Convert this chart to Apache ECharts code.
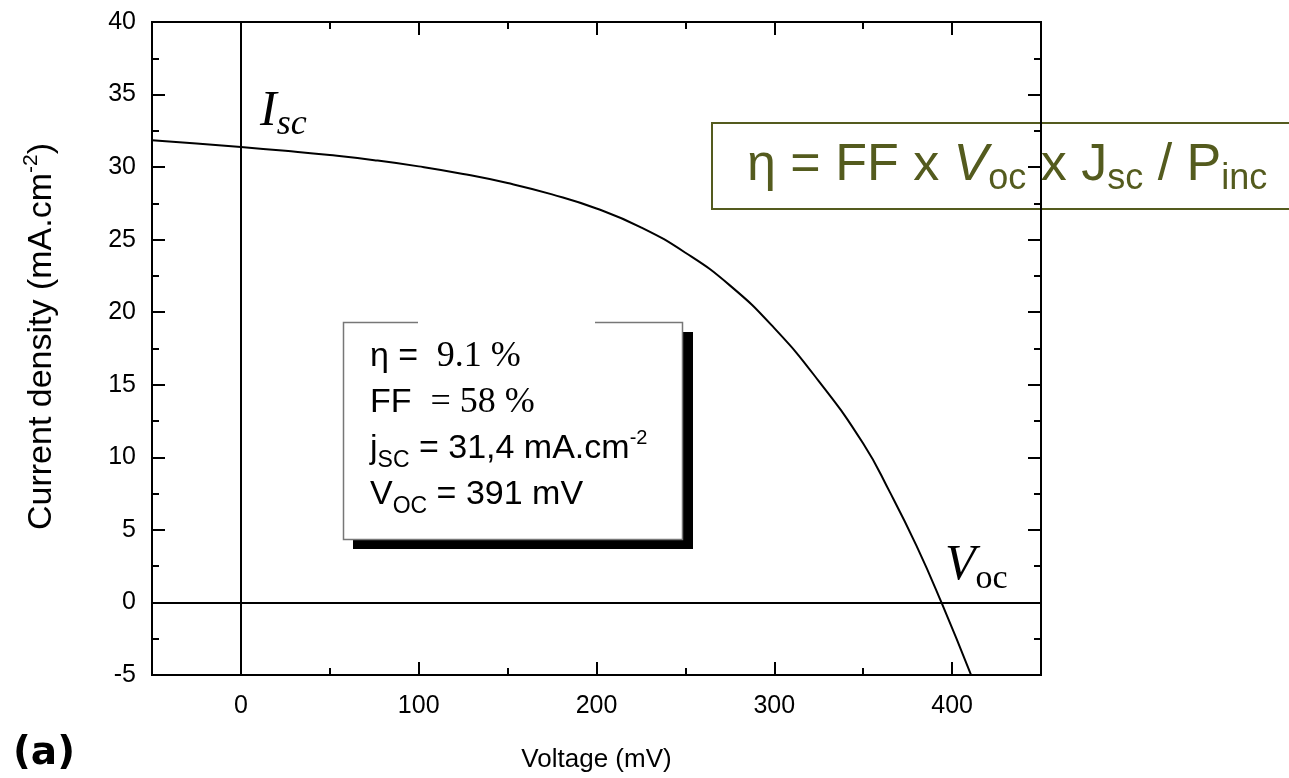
<!DOCTYPE html>
<html>
<head>
<meta charset="utf-8">
<script src="https://cdn.jsdelivr.net/npm/echarts@6/dist/echarts.min.js"></script>
<style>html,body{margin:0;padding:0;background:#fff}#c{width:1289px;height:778px}</style>
</head>
<body>
<div id="c"></div>
<script>
// Data
const voltage = [-50, -25, 0, 25, 50, 75, 100, 125, 150, 175, 200, 225, 250, 275, 300, 325, 350, 365, 380, 394, 411];
const currentDensity = [31.85, 31.62, 31.38, 31.12, 30.83, 30.48, 30.05, 29.53, 28.9, 28.12, 27.15, 25.85, 24.1, 21.85, 18.9, 15.25, 10.95, 7.6, 3.9, 0, -5.1];
const xMajorTicks = [0, 100, 200, 300, 400];
const xMinorTicks = [50, 150, 250, 350];
const yMajorTicks = [-5, 0, 5, 10, 15, 20, 25, 30, 35, 40];
const yMinorTicks = [-2.5, 2.5, 7.5, 12.5, 17.5, 22.5, 27.5, 32.5, 37.5];
const refLines = { x: 0, y: 0 };

const SANS = 'Liberation Sans';
const SERIF = 'Liberation Serif';
const OLIVE = '#545b1e';

const chart = echarts.init(document.getElementById('c'), null, { renderer: 'canvas' });

const X = { min: -50, max: 450 };
const Y = { min: -5, max: 40 };
const lineStyle = { color: '#000', width: 2 };

function xAxisDef(pos, ticks, len, labels, extra) {
  return Object.assign({
    type: 'value', position: pos, min: X.min, max: X.max,
    splitLine: { show: false },
    axisLine: { show: true, onZero: false, lineStyle: lineStyle },
    axisTick: { show: true, inside: true, length: len, customValues: ticks, lineStyle: { color: '#000', width: 2 } },
    axisLabel: labels ? { show: true, customValues: ticks, fontFamily: SANS, fontSize: 25, color: '#000', margin: 19 } : { show: false }
  }, extra || {});
}
function yAxisDef(pos, ticks, len, labels, extra) {
  return Object.assign({
    type: 'value', position: pos, min: Y.min, max: Y.max,
    splitLine: { show: false },
    axisLine: { show: true, onZero: false, lineStyle: lineStyle },
    axisTick: { show: true, inside: true, length: len, customValues: ticks, lineStyle: { color: '#000', width: 2 } },
    axisLabel: labels ? { show: true, customValues: ticks, fontFamily: SANS, fontSize: 25, color: '#000', margin: 16 } : { show: false }
  }, extra || {});
}

const option = {
  animation: false,
  backgroundColor: '#fff',
  grid: { left: 152, top: 22, width: 889, height: 655 },
  xAxis: [
    xAxisDef('bottom', xMajorTicks, 13, true, {
      name: 'Voltage (mV)', nameLocation: 'middle', nameGap: 72,
      nameTextStyle: { fontFamily: SANS, fontSize: 26, color: '#000' }
    }),
    xAxisDef('bottom', xMinorTicks, 7, false),
    xAxisDef('top', xMajorTicks, 13, false),
    xAxisDef('top', xMinorTicks, 7, false)
  ],
  yAxis: [
    yAxisDef('left', yMajorTicks, 13, true, {
      name: 'Current density (mA.cm{sup|-2})', nameLocation: 'middle', nameGap: 90,
      nameTextStyle: { fontFamily: SANS, fontSize: 34, color: '#000', padding: [0, 0, 0, 24],
        rich: { sup: { fontFamily: SANS, fontSize: 21, color: '#000', padding: [0, 0, 20, 0] } } }
    }),
    yAxisDef('left', yMinorTicks, 7, false),
    yAxisDef('right', yMajorTicks, 13, false),
    yAxisDef('right', yMinorTicks, 7, false)
  ],
  series: [{
    type: 'line',
    xAxisIndex: 0, yAxisIndex: 0,
    data: voltage.map((v, i) => [v, currentDensity[i]]),
    smooth: 0.5,
    showSymbol: false,
    lineStyle: { color: '#000', width: 2 },
    markLine: {
      silent: true, symbol: 'none', animation: false,
      label: { show: false },
      lineStyle: { color: '#000', width: 2, type: 'solid' },
      data: [{ xAxis: refLines.x }, { yAxis: refLines.y }]
    }
  }],
  graphic: [
    // I_sc label
    { type: 'text', left: 260, top: 87, style: { text: '{i|I}{s|sc}', rich: {
      i: { fontFamily: SERIF, fontStyle: 'italic', fontSize: 50, fill: '#000' },
      s: { fontFamily: SERIF, fontStyle: 'italic', fontSize: 36, fill: '#000', padding: [26, 0, 0, 0] } } } },
    // V_oc label
    { type: 'text', left: 945, top: 541, style: { text: '{i|V}{s|oc}', rich: {
      i: { fontFamily: SERIF, fontStyle: 'italic', fontSize: 50, fill: '#000' },
      s: { fontFamily: SERIF, fontSize: 34, fill: '#000', padding: [26, 0, 0, 0] } } } },
    // parameter box shadow
    { type: 'rect', shape: { x: 353, y: 332, width: 340, height: 217 }, style: { fill: '#000' } },
    { type: 'rect', shape: { x: 343, y: 322, width: 340, height: 218 }, style: { fill: '#fff' } },
    { type: 'polyline', shape: { points: [[418, 322.5], [343.5, 322.5], [343.5, 539.5], [682.5, 539.5], [682.5, 322.5], [595, 322.5]] },
      style: { stroke: '#777', lineWidth: 1.5, fill: null } },
    { type: 'text', left: 370, top: 339, style: {
      text: '{s|η = }{r| 9.1 %}\n{s|FF  }{r|= 58 %}\n{s|j}{sub|SC}{s| = 31,4 mA.cm}{sup|-2}\n{s|V}{sub|OC}{s| = 391 mV}',
      rich: {
        s: { fontFamily: SANS, fontSize: 34, fill: '#000', lineHeight: 46 },
        r: { fontFamily: SERIF, fontSize: 36, fill: '#000', lineHeight: 46 },
        sub: { fontFamily: SANS, fontSize: 23, fill: '#000', padding: [24, 0, 0, 0], lineHeight: 46 },
        sup: { fontFamily: SANS, fontSize: 20, fill: '#000', padding: [0, 0, 22, 0], lineHeight: 46 }
      } } },
    // formula box
    { type: 'rect', shape: { x: 712, y: 123, width: 600, height: 86 }, style: { fill: '#fff', stroke: OLIVE, lineWidth: 2 } },
    { type: 'text', left: 747, top: 140, style: {
      text: '{t|η = FF x }{v|V}{sub|oc}{t| x J}{sub|sc}{t| / P}{sub|inc}',
      rich: {
        t: { fontFamily: SANS, fontSize: 52, fill: OLIVE },
        v: { fontFamily: SANS, fontStyle: 'italic', fontSize: 52, fill: OLIVE },
        sub: { fontFamily: SANS, fontSize: 36, fill: OLIVE, padding: [26, 0, 0, 0] }
      } } },
    // panel tag
    { type: 'text', left: 13, top: 734, style: { text: '(a)', fontFamily: 'DejaVu Sans', fontWeight: 'bold', fontSize: 39, fill: '#000' } }
  ]
};
chart.setOption(option);
</script>
</body>
</html>
